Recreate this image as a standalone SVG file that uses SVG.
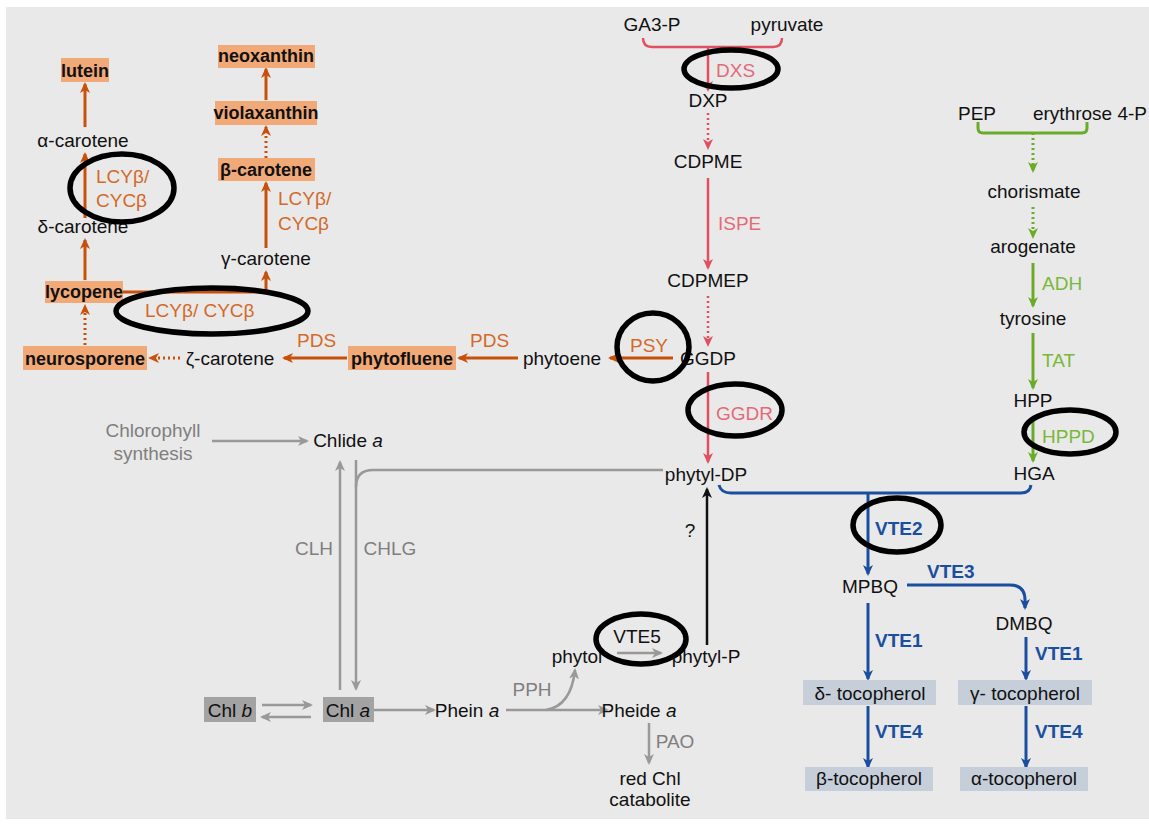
<svg xmlns="http://www.w3.org/2000/svg" width="1149" height="828" viewBox="0 0 1149 828">
<defs>
<style>
text{font-family:"Liberation Sans",Arial,sans-serif;font-size:19px;fill:#111;text-anchor:middle}
.b{font-weight:bold;font-size:18px}
.ob{fill:#f2a978}
.gb{fill:#a3a3a3}
.tb{fill:#c6ceda}
.oe{fill:#d4692a;text-anchor:start}
.re{fill:#e46a78;text-anchor:start}
.ge{fill:#7ab83a;text-anchor:start}
.be{fill:#1a4fa0;font-weight:bold;text-anchor:start}
.gt{fill:#7f7f7f}
.ln{fill:none;stroke-width:3}
.o{stroke:#c8500a}
.r{stroke:#e05060;stroke-width:2.5}
.g{stroke:#6aac2a}
.bl{stroke:#1a4fa0}
.gy{stroke:#999;stroke-width:2.5}
.k{stroke:#111;stroke-width:2.5}
.d{stroke-dasharray:2 3}
.hl{fill:none;stroke:#000;stroke-width:5.5}
</style>
<marker id="mo" markerWidth="11" markerHeight="10" refX="9" refY="5" orient="auto" markerUnits="userSpaceOnUse"><path d="M0,0 L11,5 L0,10 L3,5 z" fill="#c8500a"/></marker>
<marker id="mr" markerWidth="11" markerHeight="10" refX="9" refY="5" orient="auto" markerUnits="userSpaceOnUse"><path d="M0,0 L11,5 L0,10 L3,5 z" fill="#e05060"/></marker>
<marker id="mg" markerWidth="11" markerHeight="10" refX="9" refY="5" orient="auto" markerUnits="userSpaceOnUse"><path d="M0,0 L11,5 L0,10 L3,5 z" fill="#6aac2a"/></marker>
<marker id="mb" markerWidth="11" markerHeight="10" refX="9" refY="5" orient="auto" markerUnits="userSpaceOnUse"><path d="M0,0 L11,5 L0,10 L3,5 z" fill="#1a4fa0"/></marker>
<marker id="my" markerWidth="11" markerHeight="10" refX="9" refY="5" orient="auto" markerUnits="userSpaceOnUse"><path d="M0,0 L11,5 L0,10 L3,5 z" fill="#999"/></marker>
<marker id="mk" markerWidth="11" markerHeight="10" refX="9" refY="5" orient="auto" markerUnits="userSpaceOnUse"><path d="M0,0 L11,5 L0,10 L3,5 z" fill="#111"/></marker>
</defs>
<rect x="0" y="0" width="1149" height="828" fill="#fff"/>
<rect x="6" y="7" width="1143" height="812" fill="#e9e9e9"/>

<g id="connectors">
<!-- carotenoid (orange) -->
<path class="ln o" d="M85 127 V84" marker-end="url(#mo)"/>
<path class="ln o" d="M85 218 V154" marker-end="url(#mo)"/>
<path class="ln o" d="M85 280 V240" marker-end="url(#mo)"/>
<path class="ln o d" d="M85 345 V306" marker-end="url(#mo)"/>
<path class="ln o" d="M123 292 H266 V272" marker-end="url(#mo)"/>
<path class="ln o" d="M266 248 V183" marker-end="url(#mo)"/>
<path class="ln o d" d="M266 158 V127" marker-end="url(#mo)"/>
<path class="ln o" d="M266 100 V69" marker-end="url(#mo)"/>
<path class="ln o d" d="M180 358 H150" marker-end="url(#mo)"/>
<path class="ln o" d="M347 358 H284" marker-end="url(#mo)"/>
<path class="ln o" d="M518 358 H459" marker-end="url(#mo)"/>
<path class="ln o" d="M673 358 H610" marker-end="url(#mo)"/>
<text class="oe" x="96" y="183">LCYβ/</text>
<text class="oe" x="96" y="207">CYCβ</text>
<text class="oe" x="278" y="205">LCYβ/</text>
<text class="oe" x="278" y="230">CYCβ</text>
<text class="oe" x="145" y="317">LCYβ/ CYCβ</text>
<text class="oe" x="297" y="347">PDS</text>
<text class="oe" x="470" y="347">PDS</text>
<text class="oe" x="630" y="352">PSY</text>
<!-- MEP (red) -->
<path class="ln r" d="M643 38 Q643 47 652 47 H773 Q782 47 782 38"/>
<path class="ln r" d="M708 47 V90" marker-end="url(#mr)"/>
<path class="ln r d" d="M708 113 V148" marker-end="url(#mr)"/>
<path class="ln r" d="M708 178 V268" marker-end="url(#mr)"/>
<path class="ln r d" d="M708 296 V345" marker-end="url(#mr)"/>
<path class="ln r" d="M708 372 V462" marker-end="url(#mr)"/>
<text class="re" x="716" y="77">DXS</text>
<text class="re" x="718" y="230">ISPE</text>
<text class="re" x="716" y="420">GGDR</text>
<!-- shikimate (green) -->
<path class="ln g" d="M978 122 V128 Q978 133 983 133 H1082 Q1087 133 1087 128 V122"/>
<path class="ln g d" d="M1033 133 V171" marker-end="url(#mg)"/>
<path class="ln g d" d="M1033 207 V237" marker-end="url(#mg)"/>
<path class="ln g" d="M1033 263 V306" marker-end="url(#mg)"/>
<path class="ln g" d="M1033 333 V388" marker-end="url(#mg)"/>
<path class="ln g" d="M1033 418 V461" marker-end="url(#mg)"/>
<text class="ge" x="1042" y="290">ADH</text>
<text class="ge" x="1042" y="367">TAT</text>
<text class="ge" x="1042" y="443">HPPD</text>
<!-- tocopherol (blue) -->
<path class="ln bl" d="M719 485 Q721 493 731 493 H1021 Q1030 493 1031 485"/>
<path class="ln bl" d="M868 493 V574" marker-end="url(#mb)"/>
<path class="ln bl" d="M907 585 H1010 Q1025 585 1025 600 V608" marker-end="url(#mb)"/>
<path class="ln bl" d="M868 603 V679" marker-end="url(#mb)"/>
<path class="ln bl" d="M1026 637 V679" marker-end="url(#mb)"/>
<path class="ln bl" d="M868 706 V767" marker-end="url(#mb)"/>
<path class="ln bl" d="M1026 706 V767" marker-end="url(#mb)"/>
<text class="be" x="875" y="535">VTE2</text>
<text class="be" x="927" y="578">VTE3</text>
<text class="be" x="875" y="647">VTE1</text>
<text class="be" x="1035" y="660">VTE1</text>
<text class="be" x="875" y="738">VTE4</text>
<text class="be" x="1035" y="738">VTE4</text>
<!-- chlorophyll (gray) -->
<path class="ln gy" d="M212 441 H307" marker-end="url(#my)"/>
<path class="ln gy" d="M340 690 V462" marker-end="url(#my)"/>
<path class="ln gy" d="M356 460 V689" marker-end="url(#my)"/>
<path class="ln gy" d="M356 487 Q356 470 373 470 H663"/>
<path class="ln gy" d="M262 705 H311" marker-end="url(#my)"/>
<path class="ln gy" d="M311 717 H262" marker-end="url(#my)"/>
<path class="ln gy" d="M374 710 H434" marker-end="url(#my)"/>
<path class="ln gy" d="M506 710 H607" marker-end="url(#my)"/>
<path class="ln gy" d="M546 710 Q571 706 575 670" marker-end="url(#my)"/>
<path class="ln gy" d="M617 653 H661" marker-end="url(#my)"/>
<path class="ln gy" d="M649 723 V763" marker-end="url(#my)"/>
<text class="gt" x="314" y="555">CLH</text>
<text class="gt" x="390" y="555">CHLG</text>
<text class="gt" x="532" y="696">PPH</text>
<text class="gt" x="675" y="748">PAO</text>
<!-- phytyl-P to phytyl-DP (black) -->
<path class="ln k" d="M707 645 V489" marker-end="url(#mk)"/>
<text x="690" y="537">?</text>
</g>

<g id="n-lutein"><rect class="ob" x="61" y="58" width="48" height="24"/><text class="b" x="85" y="77">lutein</text></g>
<g id="n-neoxanthin"><rect class="ob" x="218" y="45" width="97" height="23"/><text class="b" x="266" y="62">neoxanthin</text></g>
<g id="n-violaxanthin"><rect class="ob" x="215" y="101" width="102" height="24"/><text class="b" x="266" y="119">violaxanthin</text></g>
<g id="n-beta-carotene"><rect class="ob" x="218" y="158" width="97" height="23"/><text class="b" x="266" y="176">β-carotene</text></g>
<g id="n-alpha-carotene"><text x="83" y="147">α-carotene</text></g>
<g id="n-delta-carotene"><text x="83" y="233">δ-carotene</text></g>
<g id="n-gamma-carotene"><text x="266" y="265">γ-carotene</text></g>
<g id="n-lycopene"><rect class="ob" x="45" y="281" width="78" height="22"/><text class="b" x="84" y="298">lycopene</text></g>
<g id="n-neurosporene"><rect class="ob" x="23" y="346" width="124" height="24"/><text class="b" x="85" y="365">neurosporene</text></g>
<g id="n-zeta-carotene"><text x="230" y="365">ζ-carotene</text></g>
<g id="n-phytofluene"><rect class="ob" x="348" y="346" width="108" height="24"/><text class="b" x="402" y="365">phytofluene</text></g>
<g id="n-phytoene"><text x="562" y="365">phytoene</text></g>
<g id="n-GGDP"><text x="708" y="365">GGDP</text></g>
<g id="n-GA3P"><text x="652" y="31">GA3-P</text></g>
<g id="n-pyruvate"><text x="787" y="31">pyruvate</text></g>
<g id="n-DXP"><text x="708" y="107">DXP</text></g>
<g id="n-CDPME"><text x="708" y="168">CDPME</text></g>
<g id="n-CDPMEP"><text x="708" y="287">CDPMEP</text></g>
<g id="n-phytyl-DP"><text x="706" y="481">phytyl-DP</text></g>
<g id="n-PEP"><text x="977" y="120">PEP</text></g>
<g id="n-erythrose"><text x="1090" y="120">erythrose 4-P</text></g>
<g id="n-chorismate"><text x="1034" y="198">chorismate</text></g>
<g id="n-arogenate"><text x="1033" y="253">arogenate</text></g>
<g id="n-tyrosine"><text x="1033" y="325">tyrosine</text></g>
<g id="n-HPP"><text x="1033" y="407">HPP</text></g>
<g id="n-HGA"><text x="1034" y="480">HGA</text></g>
<g id="n-MPBQ"><text x="870" y="593">MPBQ</text></g>
<g id="n-DMBQ"><text x="1024" y="630">DMBQ</text></g>
<g id="n-delta-toc"><rect class="tb" x="803" y="680" width="133" height="25"/><text x="870" y="700">δ- tocopherol</text></g>
<g id="n-gamma-toc"><rect class="tb" x="958" y="680" width="134" height="25"/><text x="1025" y="700">γ- tocopherol</text></g>
<g id="n-beta-toc"><rect class="tb" x="805" y="767" width="128" height="24"/><text x="869" y="785">β-tocopherol</text></g>
<g id="n-alpha-toc"><rect class="tb" x="960" y="767" width="128" height="24"/><text x="1024" y="785">α-tocopherol</text></g>
<g id="n-chl-synth"><text class="gt" x="153" y="437">Chlorophyll</text><text class="gt" x="153" y="460">synthesis</text></g>
<g id="n-chlide"><text x="348" y="447">Chlide <tspan font-style="italic">a</tspan></text></g>
<g id="n-chlb"><rect class="gb" x="204" y="697" width="52" height="25"/><text x="230" y="717">Chl <tspan font-style="italic">b</tspan></text></g>
<g id="n-chla"><rect class="gb" x="323" y="697" width="51" height="25"/><text x="348" y="717">Chl <tspan font-style="italic">a</tspan></text></g>
<g id="n-phein"><text x="467" y="717">Phein <tspan font-style="italic">a</tspan></text></g>
<g id="n-pheide"><text x="639" y="717">Pheide <tspan font-style="italic">a</tspan></text></g>
<g id="n-phytol"><text x="577" y="663">phytol</text></g>
<g id="n-phytyl-P"><text x="706" y="663">phytyl-P</text></g>
<g id="n-VTE5"><text x="637" y="643">VTE5</text></g>
<g id="n-rcc"><text x="650" y="785">red Chl</text><text x="650" y="806">catabolite</text></g>

<g id="highlights">
<ellipse class="hl" cx="122" cy="188" rx="52" ry="34"/>
<ellipse class="hl" cx="212" cy="311" rx="96" ry="23"/>
<ellipse class="hl" cx="731" cy="69" rx="47" ry="19"/>
<ellipse class="hl" cx="653" cy="347" rx="36" ry="34"/>
<ellipse class="hl" cx="735" cy="410" rx="47" ry="26"/>
<ellipse class="hl" cx="1070" cy="432" rx="46" ry="22"/>
<ellipse class="hl" cx="897" cy="525" rx="44" ry="27"/>
<ellipse class="hl" cx="641" cy="639" rx="45" ry="25"/>
</g>
</svg>
